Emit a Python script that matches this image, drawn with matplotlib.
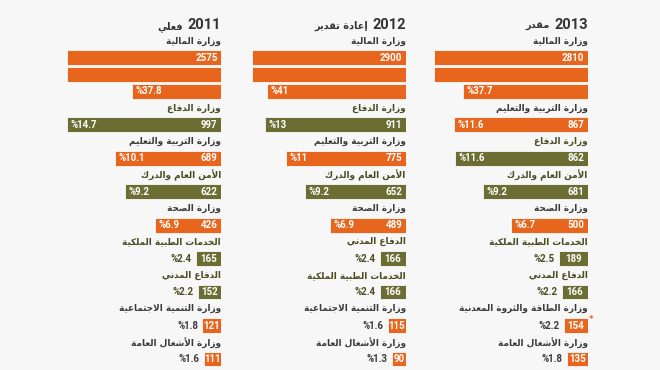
import unicodedata
import matplotlib
matplotlib.use("Agg")
import matplotlib.pyplot as plt

# data (values in the bars, share in %)
ministries_2011 = ["وزارة المالية", "وزارة الدفاع", "وزارة التربية والتعليم", "الأمن العام والدرك",
                   "وزارة الصحة", "الخدمات الطبية الملكية", "الدفاع المدني",
                   "وزارة التنمية الاجتماعية", "وزارة الأشغال العامة"]
values_2011 = [2575, 997, 689, 622, 426, 165, 152, 121, 111]
shares_2011 = [37.8, 14.7, 10.1, 9.2, 6.9, 2.4, 2.2, 1.8, 1.6]

ministries_2012 = ["وزارة المالية", "وزارة الدفاع", "وزارة التربية والتعليم", "الأمن العام والدرك",
                   "وزارة الصحة", "الدفاع المدني", "الخدمات الطبية الملكية",
                   "وزارة التنمية الاجتماعية", "وزارة الأشغال العامة"]
values_2012 = [2900, 911, 775, 652, 489, 166, 166, 115, 90]
shares_2012 = [41, 13, 11, 9.2, 6.9, 2.4, 2.4, 1.6, 1.3]

ministries_2013 = ["وزارة المالية", "وزارة التربية والتعليم", "وزارة الدفاع", "الأمن العام والدرك",
                   "وزارة الصحة", "الخدمات الطبية الملكية", "الدفاع المدني",
                   "وزارة الطاقة والثروة المعدنية", "وزارة الأشغال العامة"]
values_2013 = [2810, 867, 862, 681, 500, 189, 166, 154, 135]
shares_2013 = [37.7, 11.6, 11.6, 9.2, 6.7, 2.5, 2.2, 2.2, 1.8]

years = ["2011", "2012", "2013"]
year_notes = ["فعلي", "إعادة تقدير", "مقدر"]

# security / defence bodies are green, the rest orange
green_set = {"وزارة الدفاع", "الأمن العام والدرك", "الخدمات الطبية الملكية", "الدفاع المدني"}

ORANGE = "#E8651E"
GREEN = "#6B6D33"
GREY_TXT = "#3a3a3a"
OLIVE_TXT = "#4a4c22"
BG = "#F7F7F7"
NUM_FONT = "Roboto"


# matplotlib does not shape arabic: pick presentation forms by hand and reverse
def _forms(c):
    try:
        nm = unicodedata.name(c)
    except ValueError:
        return {}
    if not nm.startswith("ARABIC LETTER"):
        return {}
    d = {}
    for k in ("ISOLATED", "FINAL", "INITIAL", "MEDIAL"):
        try:
            d[k] = unicodedata.lookup(nm + " " + k + " FORM")
        except KeyError:
            pass
    return d


def shape(s):
    toks = []
    i = 0
    while i < len(s):
        c = s[i]
        if c == "ل" and i + 1 < len(s) and unicodedata.name(s[i + 1], "").startswith("ARABIC LETTER ALEF"):
            rest = unicodedata.name(s[i + 1]).replace("ARABIC LETTER ", "")
            lig = "ARABIC LIGATURE LAM WITH " + rest
            toks.append((c, {"ISOLATED": unicodedata.lookup(lig + " ISOLATED FORM"),
                             "FINAL": unicodedata.lookup(lig + " FINAL FORM")}))
            i += 2
            continue
        toks.append((c, _forms(c)))
        i += 1
    out = []
    for j, (c, f) in enumerate(toks):
        prev = j > 0 and "INITIAL" in toks[j - 1][1] and "FINAL" in f
        nxt = "INITIAL" in f and j + 1 < len(toks) and "FINAL" in toks[j + 1][1]
        if prev and nxt:
            k = "MEDIAL" if "MEDIAL" in f else "FINAL"
        elif prev:
            k = "FINAL"
        elif nxt:
            k = "INITIAL"
        else:
            k = "ISOLATED"
        out.append(f.get(k, c))
    return "".join(out)[::-1]


W, H = 660, 370
fig = plt.figure(figsize=(6.6, 3.7), dpi=100)
fig.patch.set_facecolor(BG)

ROW = 1000        # one bar row holds this much, longer bars wrap
ROW_PX = 154
STEP = 16.74
TOP = 41
panel_right = [221, 405.7, 587.7]

panels = [(ministries_2011, values_2011, shares_2011),
          (ministries_2012, values_2012, shares_2012),
          (ministries_2013, values_2013, shares_2013)]

renderer = fig.canvas.get_renderer()

for p, (names, vals, shares) in enumerate(panels):
    ax = fig.add_axes([(panel_right[p] - ROW_PX) / W, 0, ROW_PX / W, 1])
    ax.set_xlim(ROW, 0)
    ax.set_ylim((H - TOP) / STEP, -TOP / STEP)
    ax.axis("off")

    yt = ax.text(0, -0.72, years[p], ha="right", va="baseline", fontsize=10.5,
                 fontweight="bold", color="#333333", family=NUM_FONT)
    w = yt.get_window_extent(renderer).width * 72 / fig.dpi
    ax.annotate(shape(year_notes[p]), (0, -0.72), xytext=(-(w + 3), 0), textcoords="offset points",
                ha="right", va="baseline", fontsize=7, fontweight="bold", color="#333333")

    line = 0
    for name, v, s in zip(names, vals, shares):
        green = name in green_set
        col = GREEN if green else ORANGE
        tcol = OLIVE_TXT if green else GREY_TXT
        ax.text(0, line, shape(name), ha="right", va="center", fontsize=6.4,
                fontweight="bold", color=tcol)
        line += 1
        pieces = []
        left = v
        while left > ROW:
            pieces.append(ROW)
            left -= ROW
        pieces.append(left)
        first = line
        for piece in pieces:
            ax.barh(line, piece, height=0.88, color=col, edgecolor="#fafafa", linewidth=0.6)
            line += 1
        last = first + len(pieces) - 1
        if pieces[0] * ROW_PX / ROW < 30:
            # narrow bar: centre the number
            ax.text(pieces[0] / 2, first, str(v), ha="center", va="center", fontsize=7,
                    fontweight="bold", color="white", family=NUM_FONT)
        else:
            ax.annotate(str(v), (0, first), xytext=(-2.5, 0), textcoords="offset points",
                        ha="right", va="center", fontsize=7, fontweight="bold", color="white",
                        family=NUM_FONT)
        pct = "%" + f"{s:g}"
        if pieces[-1] >= 300:
            ax.annotate(pct, (pieces[-1], last), xytext=(2.5, 0), textcoords="offset points",
                        ha="left", va="center", fontsize=7, fontweight="bold", color="white",
                        family=NUM_FONT)
        else:
            ax.annotate(pct, (pieces[-1], last), xytext=(-3, 0), textcoords="offset points",
                        ha="right", va="center", fontsize=7, fontweight="bold", color=tcol,
                        family=NUM_FONT)
        if name == "وزارة الطاقة والثروة المعدنية":
            ax.annotate("*", (0, last - 0.35), xytext=(1, 0), textcoords="offset points",
                        ha="left", va="center", fontsize=6, fontweight="bold", color=ORANGE)

fig.savefig("out.png", dpi=100, facecolor=BG)
